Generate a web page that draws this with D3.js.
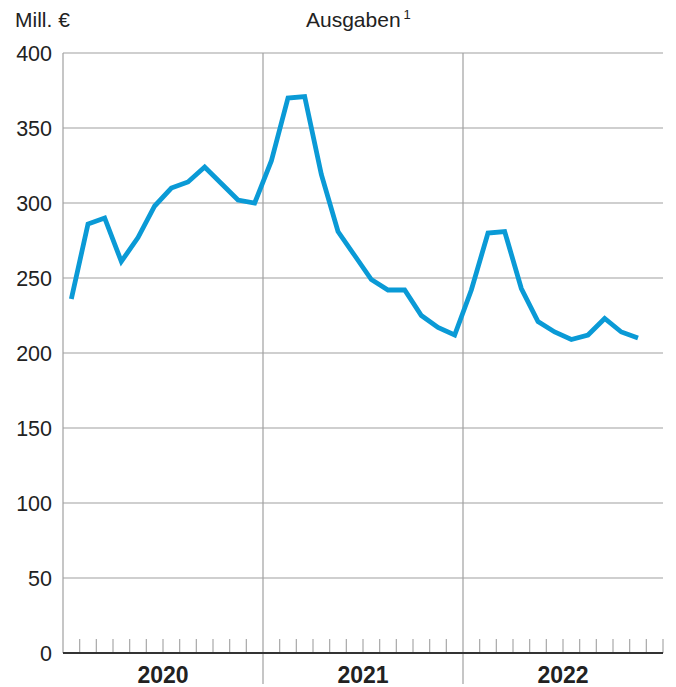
<!DOCTYPE html>
<html>
<head>
<meta charset="utf-8">
<script src="https://cdn.jsdelivr.net/npm/d3@7"></script>
<style>
	body { margin: 0; background: #fff; }
	text { font-family: "Liberation Sans", Arial, sans-serif; fill: #222; }
</style>
</head>
<body>
<script>
// monthly values, Jan 2020 - Nov 2022 (Mill. €)
var years = ["2020", "2021", "2022"];
var ausgaben = [
	236, 286, 290, 261, 277, 298, 310, 314, 324, 313, 302, 300,
	328, 370, 371, 319, 281, 265, 249, 242, 242, 225, 217, 212,
	242, 280, 281, 243, 221, 214, 209, 212, 223, 214, 210
];
var yTicks = [0, 50, 100, 150, 200, 250, 300, 350, 400];

var width = 676,
	height = 687;
var plotLeft = 63, plotRight = 663, plotTop = 53, plotBottom = 653;

var svg = d3.select("body").append("svg")
	.attr("width", width)
	.attr("height", height);

var x = d3.scaleLinear()
	.domain([0, years.length * 12])
	.range([plotLeft, plotRight]);

var y = d3.scaleLinear()
	.domain([0, 400])
	.range([plotBottom, plotTop]);

// horizontal grid
svg.append("g").selectAll("line")
	.data(yTicks.filter(function(d) { return d > 0; }))
	.enter().append("line")
		.attr("x1", plotLeft)
		.attr("x2", plotRight)
		.attr("y1", function(d) { return y(d); })
		.attr("y2", function(d) { return y(d); })
		.style("stroke", "#a0a0a0")
		.style("stroke-width", 1.2);

// left border
svg.append("line")
	.attr("x1", plotLeft).attr("x2", plotLeft)
	.attr("y1", plotTop).attr("y2", plotBottom)
	.style("stroke", "#a0a0a0")
	.style("stroke-width", 1.2);

// year separators
svg.append("g").selectAll("line")
	.data(d3.range(1, years.length))
	.enter().append("line")
		.attr("x1", function(d) { return x(d * 12); })
		.attr("x2", function(d) { return x(d * 12); })
		.attr("y1", plotTop)
		.attr("y2", 684)
		.style("stroke", "#a0a0a0")
		.style("stroke-width", 1.2);

// month ticks
svg.append("g").selectAll("line")
	.data(d3.range(1, years.length * 12 + 1).filter(function(d) { return d % 12 !== 0 || d === years.length * 12; }))
	.enter().append("line")
		.attr("x1", function(d) { return x(d); })
		.attr("x2", function(d) { return x(d); })
		.attr("y1", 639)
		.attr("y2", plotBottom)
		.style("stroke", "#a8a8a8")
		.style("stroke-width", 1.2);

// baseline
svg.append("line")
	.attr("x1", plotLeft).attr("x2", plotRight)
	.attr("y1", y(0)).attr("y2", y(0))
	.style("stroke", "#333")
	.style("stroke-width", 2);

// y labels
svg.append("g").selectAll("text")
	.data(yTicks)
	.enter().append("text")
		.attr("x", 52)
		.attr("y", function(d) { return y(d) + 7.5; })
		.attr("text-anchor", "end")
		.style("font-size", "21.5px")
		.text(function(d) { return d; });

// year labels
svg.append("g").selectAll("text")
	.data(years)
	.enter().append("text")
		.attr("x", function(d, i) { return x(i * 12 + 6); })
		.attr("y", 683)
		.attr("text-anchor", "middle")
		.style("font-size", "23px")
		.style("font-weight", "bold")
		.text(function(d) { return d; });

// titles
svg.append("text")
	.attr("x", 15)
	.attr("y", 27)
	.style("font-size", "21px")
	.text("Mill. €");

var t = svg.append("text")
	.attr("x", 306)
	.attr("y", 27)
	.style("font-size", "21px")
	.text("Ausgaben");
t.append("tspan")
	.attr("dx", 3)
	.attr("dy", -8)
	.style("font-size", "13px")
	.text("1");

// line
var line = d3.line()
	.x(function(d, i) { return x(i + 0.5); })
	.y(function(d) { return y(d); });

svg.append("path")
	.datum(ausgaben)
	.attr("d", line)
	.style("fill", "none")
	.style("stroke", "#0a9ad6")
	.style("stroke-width", 4.8)
	.style("stroke-linejoin", "miter");
</script>
</body>
</html>
